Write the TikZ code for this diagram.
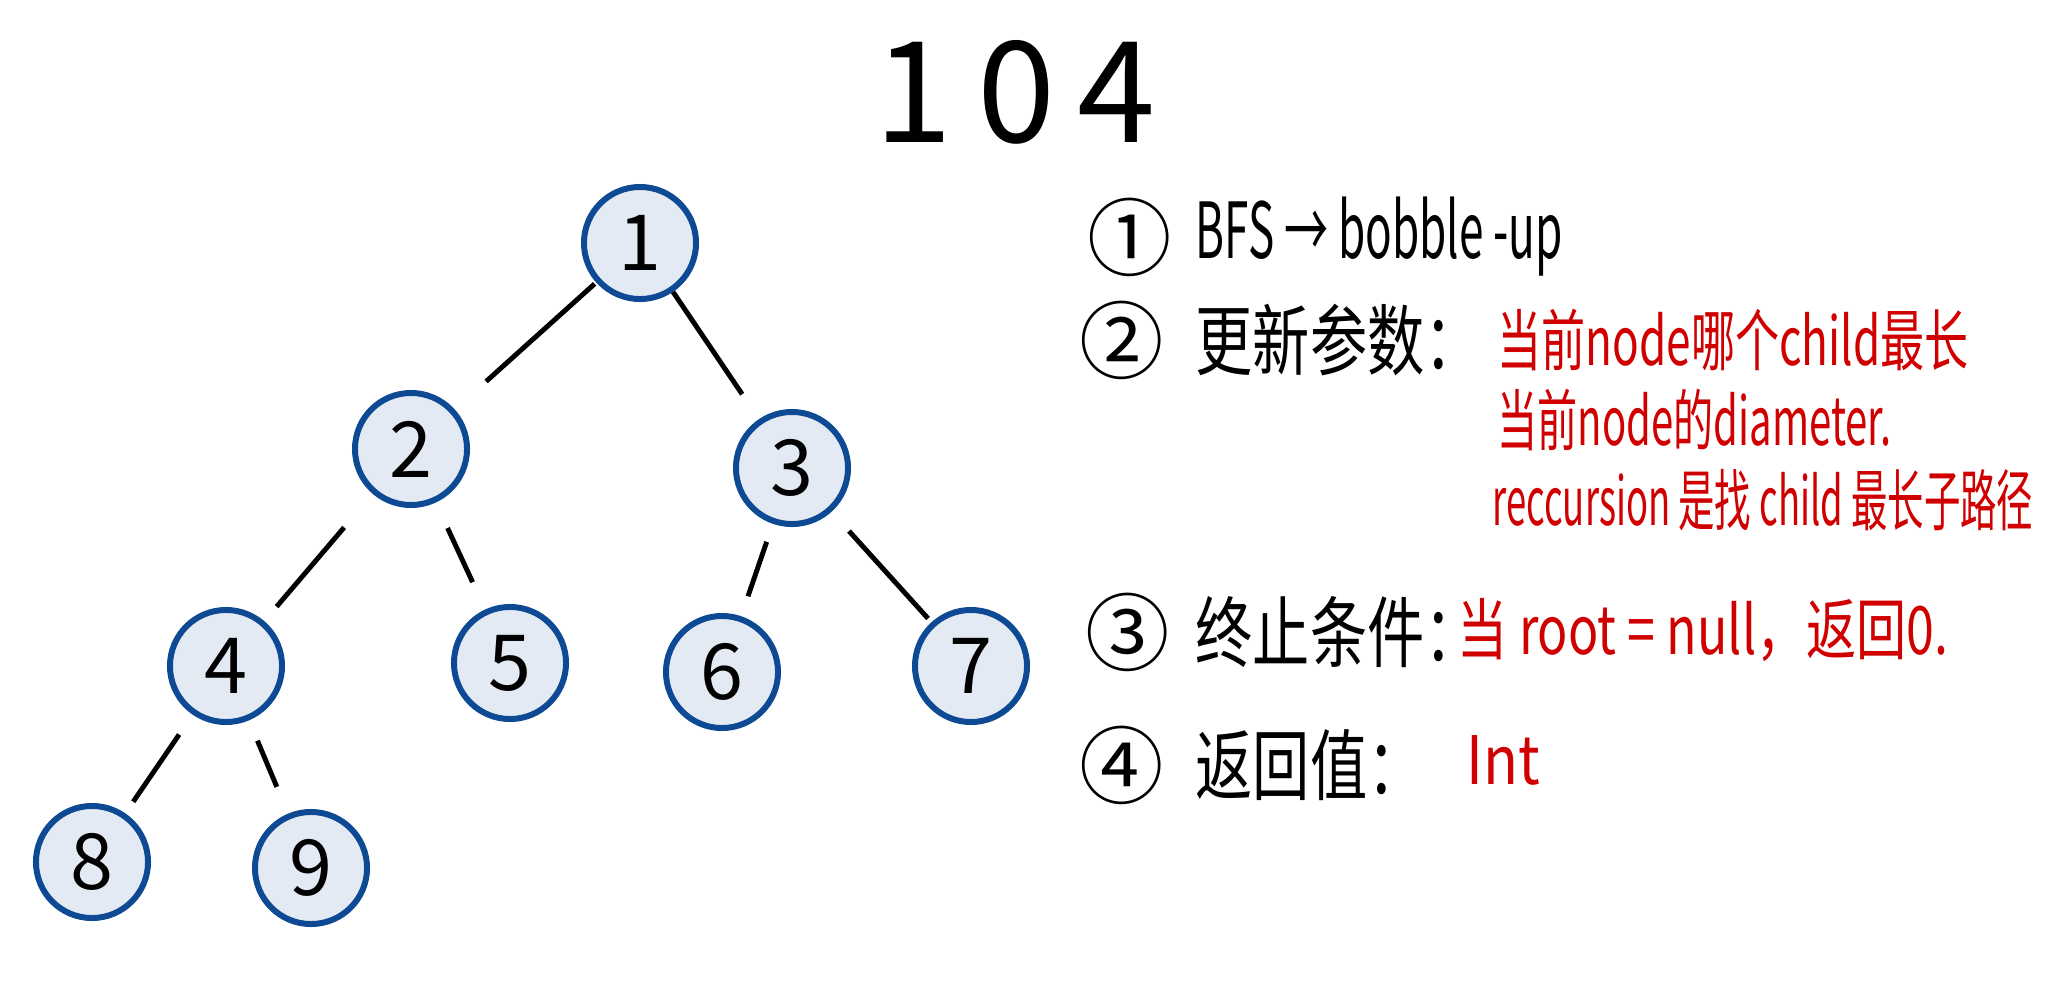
\documentclass[tikz,border=0pt]{standalone}
\usepackage{fontspec}
\usepackage{graphicx}
\setmainfont{Noto Sans CJK SC}
\newfontfamily\hand{Noto Sans CJK SC}
\newfontfamily\handb[FakeStretch=0.74]{Noto Sans CJK SC}
\definecolor{nodeblue}{RGB}{14,74,148}
\definecolor{nodefill}{RGB}{227,234,243}
\definecolor{inkred}{RGB}{208,0,0}
\begin{document}
\begin{tikzpicture}[x=0.01cm,y=-0.01cm,
  tnode/.style={circle,draw=nodeblue,fill=nodefill,line width=1.7pt,minimum size=1.12cm,inner sep=0pt,font=\fontsize{22}{22}\selectfont},
  edge/.style={line width=1.4pt,black},
  num/.style={font=\fontsize{24}{24}\selectfont,inner sep=0pt},
  lab/.style={anchor=west,inner sep=0pt,font=\handb\fontsize{22}{22}\selectfont},
  red/.style={anchor=west,inner sep=0pt,text=inkred,font=\hand\fontsize{19}{19}\selectfont}]
\useasboundingbox[fill=white] (0,0) rectangle (2057,1000);
\node[inner sep=0pt,font=\fontsize{40}{40}\selectfont] (title) at (1015,92) {1\hspace{0.18em}0\hspace{0.15em}4};
\node[tnode] (n1) at (640,243) {1};
\node[tnode] (n2) at (411,449) {2};
\node[tnode] (n3) at (792,468) {3};
\node[tnode] (n4) at (226,666) {4};
\node[tnode] (n5) at (510,663) {5};
\node[tnode] (n6) at (722,672) {6};
\node[tnode] (n7) at (971,666) {7};
\node[tnode] (n8) at (92,862) {8};
\node[tnode] (n9) at (311,868) {9};
\draw[edge,shorten <=0.02cm,shorten >=0.42cm] (n1) -- (n2);
\draw[edge,shorten <=0cm,shorten >=0.30cm] (n1) -- (n3);
\draw[edge,shorten <=0.44cm,shorten >=0.19cm] (n2) -- (n4);
\draw[edge,shorten <=0.28cm,shorten >=0.30cm] (n2) -- (n5);
\draw[edge,shorten <=0.19cm,shorten >=0.21cm] (n3) -- (n6);
\draw[edge,shorten <=0.26cm,shorten >=0.05cm] (n3) -- (n7);
\draw[edge,shorten <=0.24cm,shorten >=0.14cm] (n4) -- (n8);
\draw[edge,shorten <=0.22cm,shorten >=0.29cm] (n4) -- (n9);
\node[num] (c1) at (1130,237) {①};
\node[lab] (t1) at (1195,237) {\scalebox{0.77}[1]{BFS → bobble -up}};
\node[num] (c2) at (1122,340) {②};
\node[lab] (t2) at (1195,340) {更新参数：};
\node[red] (r2a) at (1497,340) {\scalebox{0.66}[1]{当前node哪个child最长}};
\node[red] (r2b) at (1497,420) {\scalebox{0.60}[1]{当前node的diameter.}};
\node[red] (r2c) at (1492,500) {\scalebox{0.545}[1]{reccursion 是找 child 最长子路径}};
\node[num] (c3) at (1128,632) {③};
\node[lab] (t3) at (1195,632) {终止条件：};
\node[red] (r3) at (1457,630) {\scalebox{0.75}[1]{当 root = null，返回0.}};
\node[num] (c4) at (1122,765) {④};
\node[lab] (t4) at (1195,765) {返回值：};
\node[red] (r4) at (1466,760) {\scalebox{0.86}[1]{Int}};
\end{tikzpicture}
\end{document}
